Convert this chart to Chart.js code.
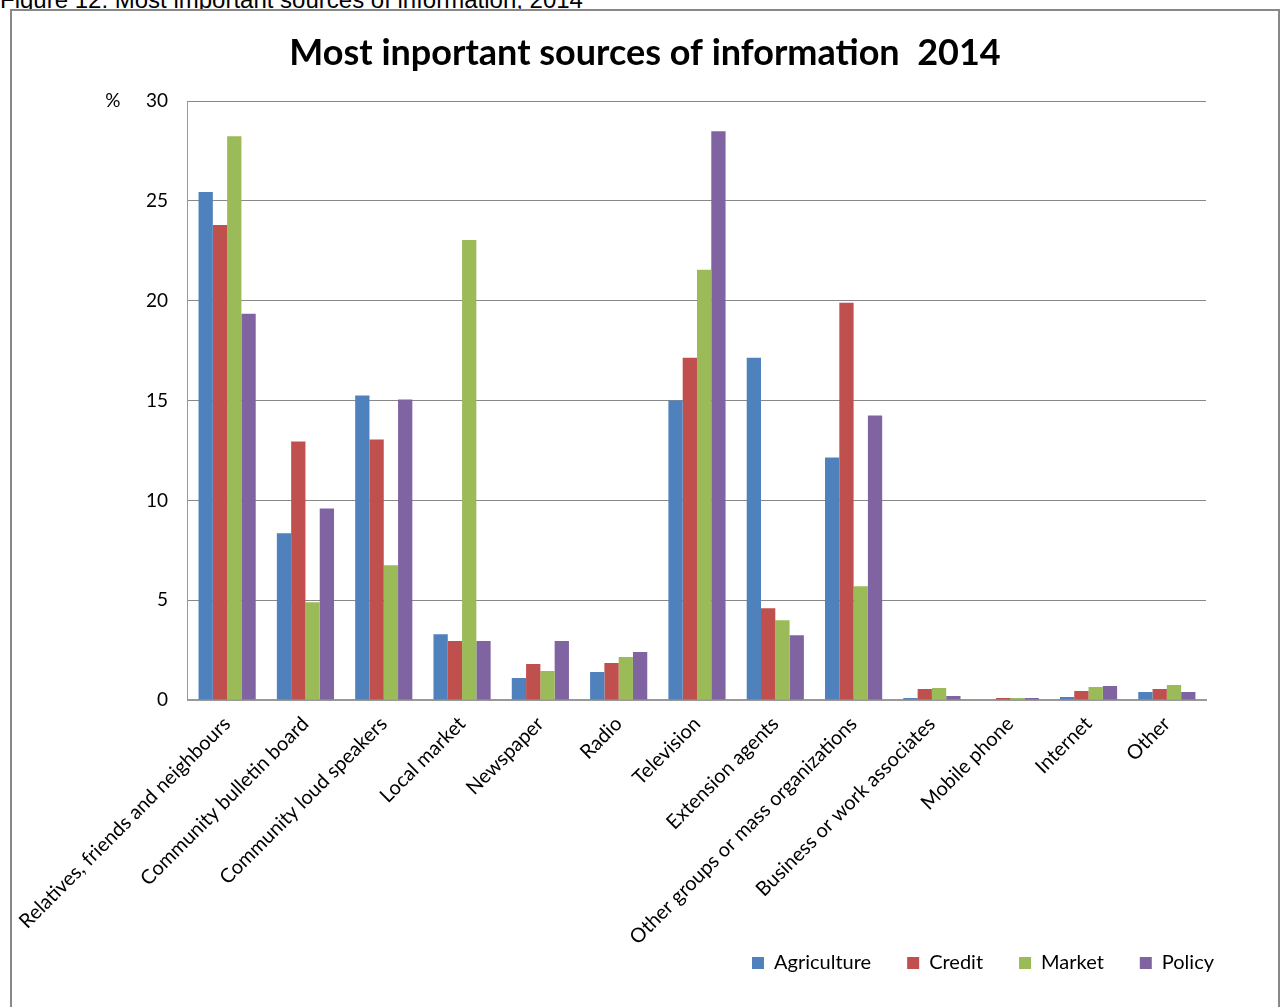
<!DOCTYPE html>
<html>
<head>
<meta charset="utf-8">
<style type="text/css">
	body{
		margin: 0;
		background: white;
		overflow: hidden;
	}
	.caption{
		position: absolute;
		left: 0;
		top: -12px;
		font-family: "Liberation Sans", Arial, sans-serif;
		font-size: 24px;
		line-height: 24px;
		color: #000;
		white-space: nowrap;
	}
	.box{
		position: absolute;
		left: 10px;
		top: 9px;
		width: 1266px;
		height: 1010px;
		border: 2px solid #888;
		background: white;
	}
	.chart{
		position: absolute;
		left: 0;
		top: 0;
		width: 1266px;
		height: 996px;
	}
</style>
<script src="https://cdn.jsdelivr.net/npm/chart.js@4.4.1/dist/chart.umd.min.js"></script>
</head>
<body>
<div class="caption">Figure 12: Most important sources of information, 2014</div>
<div class="box">
	<div class="chart"><canvas id="myChart"></canvas></div>
</div>

<script type="text/javascript">

	var categorias = ['Relatives, friends and neighbours', 'Community bulletin board', 'Community loud speakers',
		'Local market', 'Newspaper', 'Radio', 'Television', 'Extension agents', 'Other groups or mass organizations',
		'Business or work associates', 'Mobile phone', 'Internet', 'Other']

	var agriculture = [25.45, 8.35, 15.25, 3.3, 1.1, 1.4, 15.0, 17.15, 12.15, 0.1, 0, 0.15, 0.4]
	var credit = [23.8, 12.95, 13.05, 2.95, 1.8, 1.85, 17.15, 4.6, 19.9, 0.55, 0.1, 0.45, 0.55]
	var market = [28.25, 4.9, 6.75, 23.05, 1.45, 2.15, 21.55, 4.0, 5.7, 0.6, 0.1, 0.65, 0.75]
	var policy = [19.35, 9.6, 15.05, 2.95, 2.95, 2.4, 28.5, 3.25, 14.25, 0.2, 0.1, 0.7, 0.4]

	var yTicks = [0, 5, 10, 15, 20, 25, 30]

	var fonte = 'Lato'

	// "%" over the value axis
	var percentPlugin = {
		id: 'percent',
		afterDraw: chart=>{
			var ctx = chart.ctx
			var y = chart.scales.y.getPixelForValue(yTicks[yTicks.length - 1])
			ctx.save()
			ctx.font = '19px ' + fonte
			ctx.fillStyle = '#000'
			ctx.textAlign = 'center'
			ctx.textBaseline = 'middle'
			ctx.fillText('%', chart.chartArea.left - 75, y)
			ctx.restore()
		}
	}

	// the long category names run down next to the legend, so don't clip them to the x axis box
	var semCorte = {
		id: 'semCorte',
		beforeDraw: chart=>{
			chart.scales.x._computeLabelArea = ()=>undefined
		}
	}

	var dataBar = {
		labels: categorias,
		datasets: [
		{
			label: 'Agriculture',
			data: agriculture,
			backgroundColor: '#4F81BD'
		},
		{
			label: 'Credit',
			data: credit,
			backgroundColor: '#C0504D'
		},
		{
			label: 'Market',
			data: market,
			backgroundColor: '#9BBB59'
		},
		{
			label: 'Policy',
			data: policy,
			backgroundColor: '#8064A2'
		}]
	}

	var cfgBar = {
		type: 'bar',
		data: dataBar,
		plugins: [percentPlugin, semCorte],
		options: {
			responsive: true,
			maintainAspectRatio: false,
			animation: false,
			categoryPercentage: 0.73,
			barPercentage: 1.0,
			layout: {
				padding: {left: 28, right: 28, top: 0, bottom: 24}
			},
			scales: {
				x: {
					grid: {display: false},
					border: {color: '#999', width: 2},
					ticks: {
						autoSkip: false,
						maxRotation: 45,
						minRotation: 45,
						padding: 4,
						color: '#000',
						font: {family: fonte, size: 20}
					},
					afterFit: s=>{ s.height = 217 }
				},
				y: {
					min: 0,
					max: 30,
					afterBuildTicks: s=>{ s.ticks = yTicks.map(v=>({value: v})) },
					grid: {color: '#888', drawTicks: false},
					border: {color: '#999', width: 1},
					ticks: {
						padding: 20,
						color: '#000',
						font: {family: fonte, size: 19}
					},
					afterFit: s=>{ s.width = 147 }
				},
				espaco: {
					type: 'linear',
					position: 'right',
					grid: {display: false},
					border: {display: false},
					ticks: {display: false},
					afterFit: s=>{ s.width = 44 }
				}
			},
			plugins: {
				legend: {
					position: 'bottom',
					align: 'end',
					labels: {
						boxWidth: 12,
						boxHeight: 12,
						padding: 36,
						color: '#000',
						font: {family: fonte, size: 20}
					}
				},
				title: {
					display: true,
					text: 'Most inportant sources of information  2014',
					color: '#000',
					padding: {top: 21, bottom: 26},
					font: {family: fonte, size: 36, weight: 'bold'}
				},
				tooltip: {enabled: false}
			}
		}
	}

	new Chart(document.getElementById('myChart'), cfgBar)

</script>
</body>
</html>
